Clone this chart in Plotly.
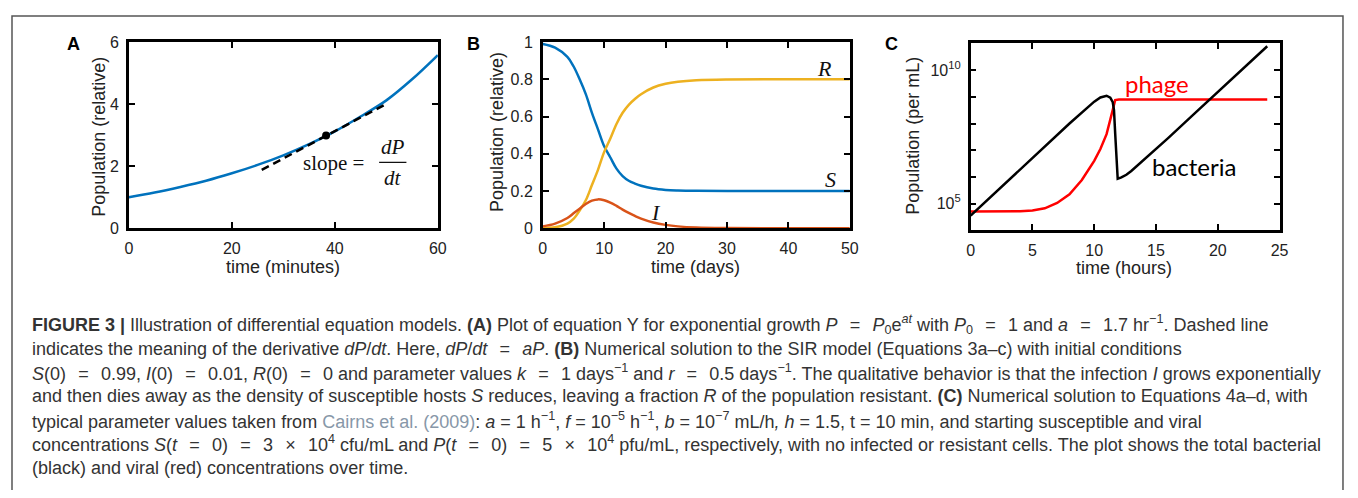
import plotly.graph_objects as go

# ---------------- data ----------------
# Panel A: exponential growth
a_time = [0, 5, 10, 15, 20, 25, 30, 35, 40, 45, 50, 55, 60]
a_pop = [1.0, 1.15, 1.33, 1.53, 1.77, 2.04, 2.35, 2.71, 3.12, 3.6, 4.12, 4.8, 5.58]
a_tan_time = [25.8, 49.8]
a_tan_pop = [1.88, 3.99]
a_pt_time = [38.3]
a_pt_pop = [2.99]

# Panel B: SIR model
b_time = [0, 2, 4, 5, 6, 7, 8, 9, 10, 11, 12, 13, 14, 15, 16, 18, 20, 22, 25, 30, 40, 50]
b_S = [0.99, 0.97, 0.92, 0.87, 0.80, 0.72, 0.62, 0.53, 0.44, 0.38, 0.32, 0.28, 0.255, 0.24,
       0.228, 0.213, 0.206, 0.203, 0.201, 0.2, 0.2, 0.2]
b_I = [0.01, 0.025, 0.055, 0.08, 0.105, 0.13, 0.148, 0.155, 0.15, 0.138, 0.12, 0.10, 0.082,
       0.066, 0.052, 0.031, 0.018, 0.01, 0.004, 0.001, 0.0, 0.0]
b_R = [0.0, 0.005, 0.025, 0.05, 0.095, 0.15, 0.232, 0.315, 0.41, 0.482, 0.56, 0.62, 0.663,
       0.694, 0.72, 0.756, 0.776, 0.787, 0.795, 0.799, 0.8, 0.8]

# Panel C: phage / bacteria (per mL)
c_bac_time = [0, 2, 4, 6, 8, 10, 10.5, 11.0, 11.3, 11.5, 11.6, 11.7, 11.8, 11.9, 12.2, 12.6,
              13, 14, 15, 16, 18, 20, 22, 24]
c_bac = [3.5e4, 2.6e5, 1.9e6, 1.4e7, 1.0e8, 6.6e8, 9.5e8, 1.1e9, 9.3e8, 6.3e8, 3.2e8, 4.0e7,
         3.2e6, 8.5e5, 9.5e5, 1.2e6, 1.66e6, 4.2e6, 1.07e7, 2.9e7, 2.1e8, 1.5e9, 1.1e10, 7.9e10]
c_phage_time = [0, 2, 4, 5, 6, 7, 8, 9, 10, 10.5, 11, 11.3, 11.5, 11.7, 12, 24]
c_phage = [5.0e4, 5.0e4, 5.1e4, 5.5e4, 6.6e4, 1.05e5, 2.2e5, 7.6e5, 4.0e6, 1.1e7, 4.0e7,
           1.4e8, 3.2e8, 7.6e8, 7.9e8, 7.9e8]

# ---------------- layout helpers ----------------
OFF = 8
W, H = 1342, 482


def px(x):
    return (x - OFF) / W


def py(y):
    return 1 - (y - OFF) / H


BLUE = "#0072BD"
ORANGE = "#EDB120"
REDB = "#D95319"
TXT = "#222222"
SANS = "Liberation Sans, Arial, sans-serif"
SERIF = "Liberation Serif, Times New Roman, serif"

fig = go.Figure()

# Panel A
fig.add_trace(go.Scatter(x=a_time, y=a_pop, mode="lines", line=dict(color=BLUE, width=2.5, shape="spline"),
                         xaxis="x", yaxis="y"))
fig.add_trace(go.Scatter(x=a_tan_time, y=a_tan_pop, mode="lines",
                         line=dict(color="black", width=2.5, dash="8px,5px"), xaxis="x", yaxis="y"))
fig.add_trace(go.Scatter(x=a_pt_time, y=a_pt_pop, mode="markers", marker=dict(color="black", size=8),
                         xaxis="x", yaxis="y"))

# Panel B
fig.add_trace(go.Scatter(x=b_time, y=b_S, mode="lines", line=dict(color=BLUE, width=2.5, shape="spline"),
                         xaxis="x2", yaxis="y2"))
fig.add_trace(go.Scatter(x=b_time, y=b_R, mode="lines", line=dict(color=ORANGE, width=2.5, shape="spline"),
                         xaxis="x2", yaxis="y2"))
fig.add_trace(go.Scatter(x=b_time, y=b_I, mode="lines", line=dict(color=REDB, width=2.5, shape="spline"),
                         xaxis="x2", yaxis="y2"))

# Panel C
fig.add_trace(go.Scatter(x=c_phage_time, y=c_phage, mode="lines", line=dict(color="#FF0000", width=2.5),
                         xaxis="x3", yaxis="y3"))
fig.add_trace(go.Scatter(x=c_bac_time, y=c_bac, mode="lines", line=dict(color="black", width=2.5),
                         xaxis="x3", yaxis="y3"))

axis_common = dict(showline=True, linecolor="black", linewidth=2.5, mirror="ticks", ticks="inside",
                   ticklen=6, tickwidth=2, tickcolor="black", showgrid=False, zeroline=False,
                   tickfont=dict(family=SANS, size=16, color=TXT), fixedrange=True,
                   ticklabelstandoff=4)

fig.update_layout(
    width=W, height=H, autosize=False,
    margin=dict(l=0, r=0, t=0, b=0),
    paper_bgcolor="white", plot_bgcolor="white",
    showlegend=False,
    xaxis=dict(domain=[px(126), px(438)], range=[0, 60], tickvals=[0, 20, 40, 60], anchor="y", **axis_common),
    yaxis=dict(domain=[py(228), py(35)], range=[0, 6], tickvals=[0, 2, 4, 6], anchor="x", **axis_common),
    xaxis2=dict(domain=[px(544), px(854)], range=[0, 50], tickvals=[0, 10, 20, 30, 40, 50], anchor="y2",
                **axis_common),
    yaxis2=dict(domain=[py(228), py(35)], range=[0, 1], tickvals=[0, 0.2, 0.4, 0.6, 0.8, 1],
                ticktext=["0", "0.2", "0.4", "0.6", "0.8", "1"], anchor="x2", **axis_common),
    xaxis3=dict(domain=[px(976), px(1288)], range=[0, 25], tickvals=[0, 5, 10, 15, 20, 25], anchor="y3",
                **axis_common),
    yaxis3=dict(domain=[py(230), py(36)], type="log", range=[4.0, 11.02],
                tickvals=[1e4, 1e5, 1e6, 1e7, 1e8, 1e9, 1e10, 1e11],
                ticktext=["", "10<sup>5</sup>", "", "", "", "", "10<sup>10</sup>", ""],
                anchor="x3", **axis_common),
)

annotations = []


def ann(text, x, y, size=17, family=SANS, color=TXT, xanchor="center", yanchor="middle", textangle=0,
        xref="paper", yref="paper"):
    annotations.append(dict(text=text, x=x, y=y, xref=xref, yref=yref, showarrow=False,
                            font=dict(family=family, size=size, color=color),
                            xanchor=xanchor, yanchor=yanchor, textangle=textangle))


# panel letters
ann("<b>A</b>", px(70), py(37), size=18, color="black")
ann("<b>B</b>", px(474), py(37), size=18, color="black")
ann("<b>C</b>", px(896), py(37), size=18, color="black")

# axis titles
ann("time (minutes)", px(282), py(268), size=18)
ann("time (days)", px(698), py(268), size=18)
ann("time (hours)", px(1131), py(269), size=18)
ann("Population (relative)", px(95), py(133), textangle=-90, size=18)
ann("Population (relative)", px(498), py(128), textangle=-90, size=18)
ann("Population (per mL)", px(917), py(132), textangle=-90, size=18)

# panel A math annotation
ann("slope =", 39.8, 2.09, size=21, family=SERIF, color="#111111", xref="x", yref="y")
ann("<i>dP</i>", 51.2, 2.62, size=21, family=SERIF, color="#111111", xref="x", yref="y")
ann("<i>dt</i>", 51.2, 1.62, size=21, family=SERIF, color="#111111", xref="x", yref="y")

# panel B curve labels
ann("<i>R</i>", 45.8, 0.86, size=22, family=SERIF, color="#111111", xref="x2", yref="y2")
ann("<i>S</i>", 46.8, 0.264, size=22, family=SERIF, color="#111111", xref="x2", yref="y2")
ann("<i>I</i>", 18.5, 0.083, size=22, family=SERIF, color="#111111", xref="x2", yref="y2")

# panel C curve labels
ann("phage", 15.1, 9.49, size=24, family="Lato, Open Sans, sans-serif", color="#FF0000", xref="x3", yref="y3")
ann("bacteria", 18.1, 6.39, size=24, family="Lato, Open Sans, sans-serif", color="black", xref="x3", yref="y3")

# caption
G = "\u00a0\u2009\u2009"
EQ = G + "=" + G
X = G + "\u00d7" + G
caption_lines = [
    "<b>FIGURE 3 |</b> Illustration of differential equation models. <b>(A)</b> Plot of equation Y for exponential "
    "growth <i>P</i>" + EQ + "<i>P</i><sub>0</sub>e<sup><i>at</i></sup> with <i>P</i><sub>0</sub>" + EQ +
    "1 and <i>a</i>" + EQ + "1.7 hr<sup>\u22121</sup>. Dashed line",
    "indicates the meaning of the derivative <i>dP</i>/<i>dt</i>. Here, <i>dP</i>/<i>dt</i>" + EQ +
    "<i>aP</i>. <b>(B)</b> Numerical solution to the SIR model (Equations 3a\u2013c) with initial conditions",
    "<i>S</i>(0)" + EQ + "0.99, <i>I</i>(0)" + EQ + "0.01, <i>R</i>(0)" + EQ + "0 and parameter values <i>k</i>" +
    EQ + "1 days<sup>\u22121</sup> and <i>r</i>" + EQ + "0.5 days<sup>\u22121</sup>. The qualitative behavior is "
    "that the infection <i>I</i> grows exponentially",
    "and then dies away as the density of susceptible hosts <i>S</i> reduces, leaving a fraction <i>R</i> of the "
    "population resistant. <b>(C)</b> Numerical solution to Equations 4a\u2013d, with",
    "typical parameter values taken from <span style='color:#8797a8'>Cairns et al. (2009)</span>: <i>a</i> = 1 "
    "h<sup>\u22121</sup>, <i>f</i> = 10<sup>\u22125</sup> h<sup>\u22121</sup>, <i>b</i> = 10<sup>\u22127</sup> "
    "mL/h<i>, h</i> = 1.5, t = 10 min, and starting susceptible and viral",
    "concentrations <i>S</i>(<i>t</i>" + EQ + "0)" + EQ + "3" + X + "10<sup>4</sup> cfu/mL and "
    "<i>P</i>(<i>t</i>" + EQ + "0)" + EQ + "5" + X + "10<sup>4</sup> pfu/mL, respectively, with no "
    "infected or resistant cells. The plot shows the total bacterial",
    "(black) and viral (red) concentrations over time.",
]
caption_y = [328, 352.7, 377.4, 402, 426.8, 451.5, 476.2]
for line, yy in zip(caption_lines, caption_y):
    ann(line, px(26), py(yy), size=18, color="#333333", xanchor="left")

fig.update_layout(annotations=annotations)

# shapes: outer figure border and fraction bar
fig.update_layout(shapes=[
    dict(type="rect", xref="paper", yref="paper", x0=px(8), x1=px(1352), y0=py(520), y1=py(8),
         line=dict(color="#555555", width=1.5), fillcolor="rgba(0,0,0,0)"),
    dict(type="line", xref="x", yref="y", x0=48.6, x1=53.9, y0=2.12, y1=2.12,
         line=dict(color="#111111", width=1.2)),
])

fig.write_html("out.html")
